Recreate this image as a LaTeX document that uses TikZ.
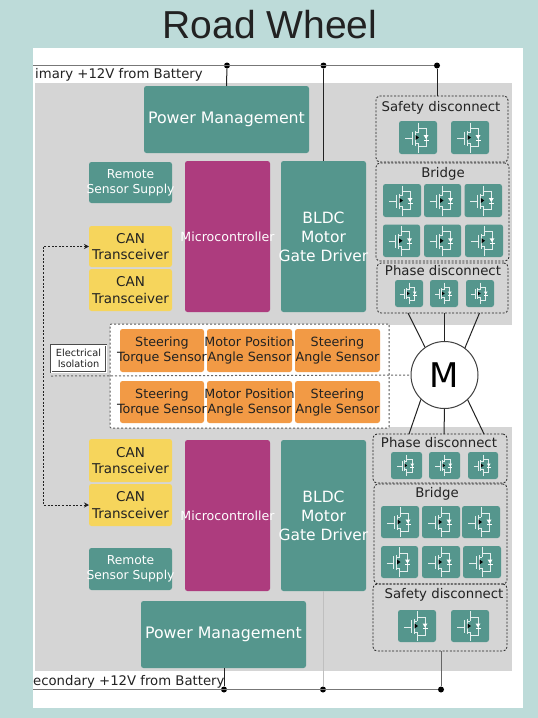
\documentclass[tikz,border=0pt]{standalone}
\usepackage{fontspec}
\setmainfont{DejaVu Sans}
\newfontfamily\titlefont{Liberation Sans}
\definecolor{bgc}{HTML}{BDDBD9}
\definecolor{grayc}{HTML}{D5D5D5}
\definecolor{tealc}{HTML}{55968D}
\definecolor{purplec}{HTML}{AD3C7E}
\definecolor{yellowc}{HTML}{F6D55C}
\definecolor{orangec}{HTML}{F29A45}
\definecolor{inkc}{HTML}{222222}
\definecolor{buslinec}{HTML}{777777}
\usetikzlibrary{arrows.meta}
\newcommand{\bx}[6]{%
  \pgfmathsetmacro{\bxw}{#4-#2}\pgfmathsetmacro{\bxh}{#5-#3}%
  \pgfmathsetmacro{\bxcx}{(#4+#2)/2}\pgfmathsetmacro{\bxcy}{(#5+#3)/2}%
  \node[#6,minimum width=\bxw pt,minimum height=\bxh pt] (#1) at (\bxcx,\bxcy) {};}
\newcommand{\tbx}[7]{%
  \bx{#1}{#2}{#3}{#4}{#5}{#6}%
  \node[#6,fill=none,draw=none] (#1txt) at (#1.center) {#7};}
\newcommand{\fetsym}[2]{%
  \begin{scope}[shift={(#1.center)},scale=#2]
    \draw[fetline] (-13,1)--(-6,1) (-6,-6)--(-6,7) (-3,-7)--(-3,8)
      (-3,-5)--(0,-5) (0,-15)--(0,-5) (-3,6)--(0,6)--(0,15)
      (0,-9)--(8,-9)--(8,9)--(0,9);
    \fill[white] (5.5,-2.5)--(10.5,-2.5)--(8,1.5)--cycle;
    \fill[white] (5.5,2)--(10.5,2)--(10.5,3)--(5.5,3)--cycle;
    \fill[black] (-2.5,-2.5)--(1,0)--(-2.5,2.5)--cycle;
  \end{scope}}
\newcommand{\fet}[5]{\bx{#1}{#2}{#3}{#4}{#5}{fetbox}\fetsym{#1}{1}}
\newcommand{\sfet}[5]{\bx{#1}{#2}{#3}{#4}{#5}{fetbox}\fetsym{#1}{0.72}}
\tikzset{
  x=1pt,y=-1pt,
  base/.style={inner sep=0pt,outer sep=0pt,rounded corners=2.5pt,align=center},
  fetbox/.style={base,fill=tealc},
  fetline/.style={draw=white!85!tealc,line width=0.9pt},
  pmbox/.style={base,fill=tealc,text=white,font=\fontsize{15.8}{19}\selectfont},
  drvbox/.style={base,fill=tealc,text=white,font=\fontsize{15.5}{19}\selectfont},
  remotebox/.style={base,fill=tealc,text=white,font=\fontsize{12.3}{15}\selectfont},
  mcubox/.style={base,fill=purplec,text=white,font=\fontsize{12.6}{15}\selectfont},
  canbox/.style={base,fill=yellowc,text=inkc,font=\fontsize{13.5}{16.5}\selectfont},
  sensbox/.style={base,fill=orangec,text=inkc,font=\fontsize{12.7}{15}\selectfont},
  groupbox/.style={base,draw=inkc,line width=0.8pt,dash pattern=on 2pt off 1.6pt,rounded corners=4pt},
  grouplabel/.style={text=inkc,inner sep=0pt,font=\fontsize{13.3}{15}\selectfont},
  buslabel/.style={text=inkc,inner sep=0pt,anchor=base west,font=\fontsize{13.25}{15}\selectfont},
  dot/.style={circle,fill=black,inner sep=0pt,minimum size=6pt},
  bus/.style={draw=buslinec,line width=1.3pt},
  wire/.style={draw=inkc,line width=1pt},
}
\begin{document}
\begin{tikzpicture}
\useasboundingbox (0,0) rectangle (538,718);
\fill[bgc] (0,0) rectangle (538,718);
\fill[white] (33,48) rectangle (523,708);
\fill[grayc] (35,83) rectangle (512,325);
\fill[grayc] (35,427) rectangle (512,671);
\fill[grayc] (35,325) rectangle (110,427);
\node[text=inkc,inner sep=0pt,font=\titlefont\fontsize{39}{44}\selectfont] (title) at (270,25) {Road Wheel};

% sensors
\bx{sensgroup}{110}{324}{389}{428}{base,fill=white,draw=black!65,line width=1pt,dash pattern=on 2pt off 2pt,rounded corners=1pt}
\tbx{sa}{120}{329}{204}{372}{sensbox}{Steering\\Torque Sensor}
\tbx{sb}{207}{329}{292}{372}{sensbox}{Motor Position\\Angle Sensor}
\tbx{sc}{295}{329}{380}{372}{sensbox}{Steering\\Angle Sensor}
\tbx{sd}{120}{381}{204}{423}{sensbox}{Steering\\Torque Sensor}
\tbx{se}{207}{381}{292}{423}{sensbox}{Motor Position\\Angle Sensor}
\tbx{sf}{295}{381}{380}{423}{sensbox}{Steering\\Angle Sensor}
\bx{iso}{51}{345}{106}{372}{base,rounded corners=0pt,fill=white,draw=black!70,double=white,double distance=0.8pt,line width=0.6pt}
\node[text=inkc,inner sep=0pt,align=center,font=\fontsize{9.8}{11.5}\selectfont] (isotxt) at (iso.center) {Electrical\\Isolation};

% top half
\tbx{pma}{144}{86}{309}{153}{pmbox}{Power Management}
\tbx{rema}{89}{162}{172}{203}{remotebox}{Remote\\Sensor Supply}
\tbx{cana}{89}{226}{172}{267}{canbox}{CAN\\Transceiver}
\tbx{canb}{89}{269}{172}{311}{canbox}{CAN\\Transceiver}
\tbx{mcua}{185}{161}{270}{312}{mcubox}{Microcontroller}
\tbx{drva}{281}{161}{366}{312}{drvbox}{BLDC\\Motor\\Gate Driver}

\bx{safea}{376}{96}{508}{162}{groupbox}
\bx{bridgea}{376}{163}{509}{261}{groupbox}
\bx{phasea}{377}{263}{508}{313}{groupbox}
\node[grouplabel] (safeatxt) at (441,108) {Safety disconnect};
\node[grouplabel] (bridgeatxt) at (443,174) {Bridge};
\node[grouplabel] (phaseatxt) at (443,271) {Phase disconnect};
\fet{f1}{399}{121}{437}{154}\fet{f2}{451}{121}{489}{154}
\fet{f3}{383}{184}{421}{217}\fet{f4}{424}{184}{461}{217}\fet{f5}{464.5}{184}{502}{217}
\fet{f6}{383}{224.5}{420}{257}\fet{f7}{424}{224.5}{461}{257}\fet{f8}{465}{224.5}{503}{257}
\sfet{f9}{395}{280}{423}{307}\sfet{f10}{430}{280}{458}{307}\sfet{f11}{466}{280}{494}{307}

% bottom half
\tbx{canc}{89}{439}{172}{482}{canbox}{CAN\\Transceiver}
\tbx{cand}{89}{484}{172}{526}{canbox}{CAN\\Transceiver}
\tbx{remb}{89}{548}{172}{590}{remotebox}{Remote\\Sensor Supply}
\tbx{mcub}{185}{440}{270}{591}{mcubox}{Microcontroller}
\tbx{drvb}{281}{440}{366}{591}{drvbox}{BLDC\\Motor\\Gate Driver}
\tbx{pmb}{141}{601}{306}{668}{pmbox}{Power Management}

\bx{phaseb}{373}{434}{507}{483}{groupbox}
\bx{bridgeb}{374}{484}{507}{584}{groupbox}
\bx{safeb}{373}{584}{507}{651}{groupbox}
\node[grouplabel] (phasebtxt) at (439,443) {Phase disconnect};
\node[grouplabel] (bridgebtxt) at (437,494) {Bridge};
\node[grouplabel] (safebtxt) at (444,595) {Safety disconnect};
\sfet{g1}{391}{452}{422}{479}\sfet{g2}{429}{452}{460}{479}\sfet{g3}{468}{452}{498}{479}
\fet{g4}{381}{506}{419}{538}\fet{g5}{422}{506}{460}{538}\fet{g6}{462}{506}{500}{538}
\fet{g7}{381}{546}{418}{578}\fet{g8}{422}{546}{460}{578}\fet{g9}{463}{546}{501}{578}
\fet{g10}{398}{610}{436}{642}\fet{g11}{451}{610}{489}{642}

% motor
\node[circle,draw=black!75,fill=white,line width=1pt,minimum size=67pt,inner sep=0pt,font=\fontsize{34}{36}\selectfont] (motor) at (444.5,375) {M};

% isolation line
\coordinate (isol) at (51,376);
\draw[draw=black!60,line width=1pt,dash pattern=on 2pt off 2pt] (isol) -- (motor.west);

% buses
\coordinate (pbus) at (33,65.5);
\node[dot] (da) at (227,65.5) {};
\node[dot] (db) at (323.5,65.5) {};
\node[dot] (dc) at (437,65.5) {};
\draw[bus] (pbus) -- (dc);
\draw[wire] (da) -- (pma.north);
\draw[wire] (db) -- (drva.north);
\draw[wire] (dc) -- (dc |- safea.north);
\node[buslabel] (plabel) at (35,78) {imary +12V from Battery};

\coordinate (sbus) at (33,689.5);
\node[dot] (dd) at (224,689.5) {};
\node[dot] (de) at (323,689.5) {};
\node[dot] (df) at (441,689.5) {};
\draw[bus] (sbus) -- (df);
\draw[wire] (dd) -- (pmb.south -| dd);
\draw[draw=black!25,line width=0.8pt] (de) -- (drvb.south -| de);
\draw[draw=black!60,line width=0.8pt] (df) -- (df |- safeb.south);
\node[buslabel] (slabel) at (33,685) {econdary +12V from Battery};

% motor phases
\draw[wire] ([xshift=-34.5pt]phasea.south) -- (motor.125);
\draw[wire] ([xshift=2pt]phasea.south) -- (motor.90);
\draw[wire] ([xshift=37pt]phasea.south) -- (motor.53);
\draw[wire] ([xshift=-31pt]phaseb.north) -- (motor.226);
\draw[wire] ([xshift=4pt]phaseb.north) -- (motor.270);
\draw[wire] ([xshift=44pt]phaseb.north) -- (motor.313);

% CAN link
\draw[draw=inkc,line width=0.8pt,dash pattern=on 2pt off 1.6pt,{Stealth[length=5pt,width=5pt]}-{Stealth[length=5pt,width=5pt]}] (cana.west) -- ++(-46,0) |- (cand.west);
\end{tikzpicture}
\end{document}
